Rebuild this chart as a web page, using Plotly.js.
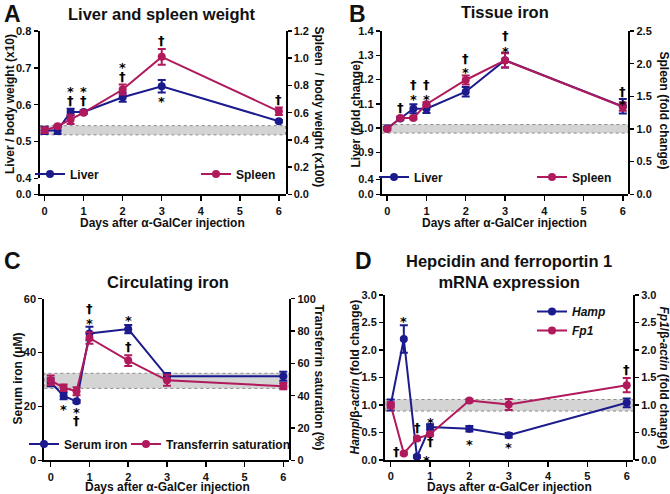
<!DOCTYPE html>
<html><head><meta charset="utf-8">
<script src="https://cdn.plot.ly/plotly-3.0.1.min.js"></script>
<style>html,body{margin:0;padding:0;background:#fff}#chart{width:670px;height:494px}</style>
</head><body><div id="chart"></div>
<script>
// ---- data ----
const days = [0, 1/3, 2/3, 1, 2, 3, 6];
const dayTicks = [0, 1, 2, 3, 4, 5, 6];

// A: Liver and spleen weight
const liverWeight    = [0.53, 0.53, 0.58, 0.58, 0.62, 0.65, 0.555];
const liverWeightErr = [0.010, 0.010, 0.009, 0.004, 0.012, 0.017, 0.003];
const spleenWeight    = [0.47, 0.50, 0.55, 0.60, 0.77, 1.01, 0.61];
const spleenWeightErr = [0.020, 0.010, 0.034, 0.010, 0.036, 0.058, 0.027];
const sigA = [[2/3,0.645,'*'],[2/3,0.612,'†'],[1,0.645,'*'],[1,0.612,'†'],[2,0.708,'*'],[2,0.676,'†'],[3,0.773,'†'],[3,0.617,'*'],[6,0.615,'†']];

// B: Tissue iron
const liverIron    = [1.00, 1.04, 1.08, 1.08, 1.15, 1.28, 1.09];
const liverIronErr = [0.005, 0.005, 0.019, 0.017, 0.02, 0.03, 0.03];
const spleenIron    = [1.00, 1.17, 1.17, 1.38, 1.75, 2.05, 1.34];
const spleenIronErr = [0.02, 0.02, 0.02, 0.03, 0.07, 0.11, 0.06];
const sigB = [[1/3,1.086,'†'],[2/3,1.178,'†'],[2/3,1.129,'*'],[1,1.178,'†'],[1,1.129,'*'],[2,1.287,'†'],[2,1.241,'*'],[3,1.383,'†'],[3,1.33,'*'],[6,1.151,'†'],[6,1.111,'*']];

// C: Circulating iron
const serumIron    = [29.0, 23.9, 21.9, 47.1, 48.7, 31.2, 31.2];
const serumIronErr = [1.5, 1.2, 0.5, 2.5, 1.5, 1.2, 1.7];
const tsat    = [49.5, 44.9, 42.7, 75.7, 61.7, 49.5, 45.9];
const tsatErr = [2.9, 2.0, 2.5, 3.6, 3.3, 3.4, 1.9];
const sigC = [[1/3,19.9,'*'],[2/3,18.9,'*'],[2/3,14.8,'†'],[1,56.3,'†'],[1,51.9,'*'],[2,52.9,'*'],[2,42.2,'†']];

// D: Hepcidin and ferroportin 1 mRNA
const hamp    = [1.00, 2.20, 0.06, 0.60, 0.57, 0.45, 1.04];
const hampErr = [0.10, 0.25, 0.02, 0.05, 0.05, 0.04, 0.08];
const fp1    = [1.00, 0.12, 0.39, 0.47, 1.08, 1.01, 1.36];
const fp1Err = [0.05, 0.02, 0.03, 0.03, 0.03, 0.10, 0.13];
const sigD = [[1/3,2.58,'*'],[0.15,0.15,'†'],[0.69,0.6,'†'],[0.92,0.05,'*'],[1,0.74,'*'],[1,0.33,'†'],[2,0.34,'*'],[3,0.29,'*'],[6,1.65,'†']];

// control ranges (grey bands)
const bandA = [0.518, 0.543];
const bandB = [0.98, 1.015];
const bandC = [26.7, 32.3];
const bandD = [0.89, 1.10];

// ---- styling helpers ----
const W = 670, H = 494;
const px = v => v / W;
const py = v => 1 - v / H;
const BLUE = '#1b1b8e', RED = '#b0195b';
const FONT = '"Liberation Sans", Arial, Helvetica, sans-serif';
const tickfont = {family: FONT, size: 11, weight: 'bold', color: '#111'};

function series(x, y, err, color, xa, ya, name, legend) {
  return {type: 'scatter', mode: 'lines+markers', x: x, y: y, name: name, legend: legend,
    xaxis: xa, yaxis: ya, cliponaxis: false,
    line: {color: color, width: 2}, marker: {color: color, size: 8, symbol: 'circle'},
    error_y: {type: 'data', array: err, visible: true, color: color, thickness: 2, width: 4}};
}
function xAx(l, r, range, anchor) {
  return {domain: [px(l), px(r)], range: range, anchor: anchor, tickvals: dayTicks,
    ticks: 'outside', ticklen: 5, tickwidth: 1.5, tickcolor: '#000', showline: true, linewidth: 2,
    linecolor: '#000', showgrid: false, zeroline: false, tickfont: tickfont, fixedrange: true};
}
function yAx(top, bottom, range, anchor, side, tickvals, ticktext) {
  const a = {domain: [py(bottom), py(top)], range: range, anchor: anchor, side: side,
    ticks: 'outside', ticklen: 4, tickwidth: 1.5, tickcolor: '#000', showline: true, linewidth: 2,
    linecolor: '#000', showgrid: false, zeroline: false, tickfont: tickfont, fixedrange: true,
    tickvals: tickvals};
  if (ticktext) a.ticktext = ticktext; else a.tickformat = '.1f';
  return a;
}
function rng(a, b, s) { const o = []; for (let v = a; v <= b + 1e-9; v += s) o.push(+v.toFixed(4)); return o; }

const traces = [
  series(days, liverWeight, liverWeightErr, BLUE, 'x', 'y', 'Liver', 'legend'),
  series(days, spleenWeight, spleenWeightErr, RED, 'x', 'y3', 'Spleen', 'legend2'),
  series(days, liverIron, liverIronErr, BLUE, 'x2', 'y4', 'Liver', 'legend3'),
  series(days, spleenIron, spleenIronErr, RED, 'x2', 'y6', 'Spleen', 'legend4'),
  series(days, serumIron, serumIronErr, BLUE, 'x3', 'y7', 'Serum iron', 'legend5'),
  series(days, tsat, tsatErr, RED, 'x3', 'y8', 'Transferrin saturation', 'legend6'),
  series(days, fp1, fp1Err, RED, 'x4', 'y10', '<i>Fp1</i>', 'legend7'),
  series(days, hamp, hampErr, BLUE, 'x4', 'y9', '<i>Hamp</i>', 'legend7'),
  {type: 'scatter', x: [null], y: [null], xaxis: 'x', yaxis: 'y2', showlegend: false, hoverinfo: 'skip'},
  {type: 'scatter', x: [null], y: [null], xaxis: 'x2', yaxis: 'y5', showlegend: false, hoverinfo: 'skip'}
];
traces[6].legendrank = 2; traces[7].legendrank = 1;

function legendAt(x, y) {
  return {x: px(x), y: py(y), xanchor: 'left', yanchor: 'middle', bgcolor: 'rgba(0,0,0,0)',
    font: {family: FONT, size: 12, weight: 'bold', color: '#111'}, borderwidth: 0,
    tracegroupgap: 0, itemclick: false, itemdoubleclick: false};
}

const annotations = [];
function txt(x, y, text, size, angle) {
  annotations.push({xref: 'paper', yref: 'paper', x: px(x), y: py(y), text: text,
    showarrow: false, xanchor: 'center', yanchor: 'middle', textangle: angle || 0,
    font: {family: FONT, size: size, weight: 'bold', color: '#111'}});
}
// panel letters & titles
txt(12.5, 14, 'A', 23); txt(357.5, 14, 'B', 23); txt(12.5, 261, 'C', 23); txt(363.5, 261, 'D', 23);
txt(162, 14, 'Liver and spleen weight', 16.5);
txt(505, 12, 'Tissue iron', 16.5);
txt(167.5, 282, 'Circulating iron', 16.5);
txt(509, 271, 'Hepcidin and ferroportin 1<br>mRNA expression', 16.5);
// axis titles
const xt = 'Days after α-GalCer injection';
txt(162.5, 223, xt, 12); txt(505, 223, xt, 12); txt(167, 487, xt, 12); txt(509, 487, xt, 12);
txt(10, 104, 'Liver / body weight (x10)', 12, -90);
txt(318.5, 107, 'Spleen  / body weight (x100)', 12, 90);
txt(355.5, 114, 'Liver (fold change)', 12, -90);
txt(663.5, 110, 'Spleen (fold change)', 12, 90);
txt(17.5, 379, 'Serum iron (μM)', 12, -90);
txt(318.5, 377, 'Transferrin saturation (%)', 12, 90);
txt(354, 377.5, '<i>Hamp</i>/β-<i>actin</i> (fold change)', 12, -90);
txt(664, 377.5, '<i>Fp1</i>/β-<i>actin</i> (fold change)', 12, 90);
// significance marks
function sig(list, xr, yr) {
  list.forEach(s => annotations.push({xref: xr, yref: yr, x: s[0], y: s[1], text: s[2], showarrow: false,
    xanchor: 'center', yanchor: 'middle', yshift: s[2] === '*' ? -3 : 0,
    font: {family: '"DejaVu Sans", ' + FONT, size: 13, weight: 'bold', color: '#000'}}));
}
sig(sigA, 'x', 'y'); sig(sigB, 'x2', 'y4'); sig(sigC, 'x3', 'y7'); sig(sigD, 'x4', 'y9');

function band(b, xr, yr) {
  return {type: 'rect', xref: xr + ' domain', yref: yr, x0: 0, x1: 1, y0: b[0], y1: b[1], layer: 'below',
    fillcolor: '#d4d4d4', line: {color: '#8a8a8a', width: 1, dash: 'dot'}};
}

const layout = {
  width: W, height: H, margin: {l: 0, r: 0, t: 0, b: 0},
  paper_bgcolor: '#fff', plot_bgcolor: 'rgba(0,0,0,0)',
  font: {family: FONT, color: '#111'},
  // Panel A
  xaxis:  xAx(39.5, 285.5, [-0.13, 6.17], 'y2'),
  yaxis:  yAx(31, 178.3, [0.4, 0.8], 'x', 'left', rng(0.4, 0.8, 0.1)),
  yaxis2: yAx(184.3, 194.3, [0, 0.03], 'x', 'left', [0]),
  yaxis3: yAx(31, 194.3, [0, 1.2], 'x', 'right', rng(0, 1.2, 0.2)),
  // Panel B
  xaxis2: xAx(381.7, 628.3, [-0.14, 6.14], 'y5'),
  yaxis4: yAx(31, 172.3, [0.8185, 1.4], 'x2', 'left', rng(0.9, 1.4, 0.1)),
  yaxis5: yAx(176.7, 194.3, [0, 0.469], 'x2', 'left', [0, 0.4]),
  yaxis6: yAx(31, 194.3, [0, 2.5], 'x2', 'right', rng(0, 2.5, 0.5)),
  // Panel C
  xaxis3: xAx(44.3, 289.3, [-0.165, 6.155], 'y7'),
  yaxis7: yAx(298.7, 460.3, [0, 60], 'x3', 'left', rng(0, 60, 20), ['0', '20', '40', '60']),
  yaxis8: yAx(298.7, 460.3, [0, 100], 'x3', 'right', rng(0, 100, 20), ['0', '20', '40', '60', '80', '100']),
  // Panel D
  xaxis4: xAx(385, 633, [-0.145, 6.16], 'y9'),
  yaxis9: yAx(295, 460, [0, 3], 'x4', 'left', rng(0, 3, 0.5)),
  yaxis10: yAx(295, 460, [0, 3], 'x4', 'right', rng(0, 3, 0.5)),
  shapes: [band(bandA, 'x', 'y'), band(bandB, 'x2', 'y4'), band(bandC, 'x3', 'y7'), band(bandD, 'x4', 'y9')],
  annotations: annotations,
  legend:  legendAt(30, 174),
  legend2: legendAt(196, 174),
  legend3: legendAt(374, 177),
  legend4: legendAt(532, 177),
  legend5: legendAt(24, 444),
  legend6: legendAt(126, 444),
  legend7: legendAt(532, 321),
  showlegend: true
};

Plotly.newPlot('chart', traces, layout, {staticPlot: true, displayModeBar: false});
</script></body></html>
